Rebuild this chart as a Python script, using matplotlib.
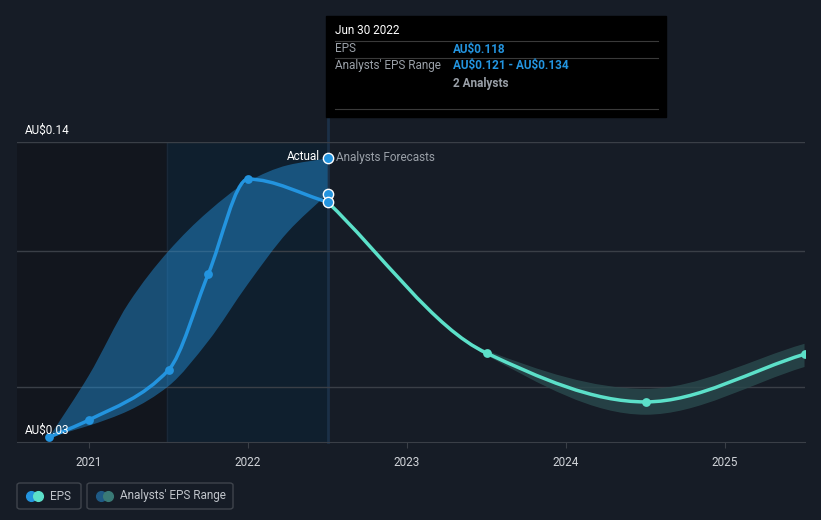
import numpy as np
import matplotlib
matplotlib.use('Agg')
import matplotlib.pyplot as plt
from matplotlib.path import Path
from matplotlib.patches import PathPatch, FancyBboxPatch

plt.rcParams['font.family'] = ['Roboto', 'DejaVu Sans']

# %% DATA
past_x = [2020.75, 2021.0, 2021.5, 2021.75, 2022.0, 2022.5]
past_eps = [0.0318, 0.0381, 0.0564, 0.0916, 0.1264, 0.118]

band_x = [2020.75, 2021.0, 2021.25, 2021.5, 2021.75, 2022.0, 2022.25, 2022.5]
band_lo = [0.0318, 0.0360, 0.0415, 0.0505, 0.0670, 0.0880, 0.1070, 0.121]
band_hi = [0.0318, 0.0545, 0.0810, 0.1000, 0.1145, 0.1255, 0.1315, 0.134]

fc_x = [2022.5, 2023.5, 2024.5, 2025.5]
fc_eps = [0.118, 0.0626, 0.0447, 0.0622]
fc_lo = [0.118, 0.0618, 0.0400, 0.0575]
fc_hi = [0.118, 0.0636, 0.0495, 0.0660]

years = [2021, 2022, 2023, 2024, 2025]
grid_vals = [0.14, 0.10, 0.05]

BG = '#161c26'
BLUE = '#2394df'
TEAL = '#5ce0c9'
GREY = '#9aa0a8'
FS = 8.5


def bezier_verts(x, y):
    # monotone cubic hermite -> bezier control points
    x = np.asarray(x, float)
    y = np.asarray(y, float)
    h = np.diff(x)
    d = np.diff(y) / h
    m = np.zeros_like(y)
    m[0], m[-1] = d[0], d[-1]
    for i in range(1, len(y) - 1):
        if d[i - 1] * d[i] <= 0:
            m[i] = 0
        else:
            w1 = 2 * h[i] + h[i - 1]
            w2 = h[i] + 2 * h[i - 1]
            m[i] = (w1 + w2) / (w1 / d[i - 1] + w2 / d[i])
    verts = [(x[0], y[0])]
    for i in range(len(x) - 1):
        verts.append((x[i] + h[i] / 3, y[i] + m[i] * h[i] / 3))
        verts.append((x[i + 1] - h[i] / 3, y[i + 1] - m[i + 1] * h[i] / 3))
        verts.append((x[i + 1], y[i + 1]))
    return verts


def curve(x, y):
    v = bezier_verts(x, y)
    return Path(v, [Path.MOVETO] + [Path.CURVE4] * (len(v) - 1))


def band(x, lo, hi):
    top = bezier_verts(x, hi)
    bot = bezier_verts(x[::-1], lo[::-1])
    v = top + bot + [top[0]]
    codes = ([Path.MOVETO] + [Path.CURVE4] * (len(top) - 1)
             + [Path.LINETO] + [Path.CURVE4] * (len(bot) - 1) + [Path.CLOSEPOLY])
    return Path(v, codes)


fig = plt.figure(figsize=(8.21, 5.2), dpi=100, facecolor=BG)
ax = fig.add_axes([17 / 821, 78 / 520, 788 / 821, 300 / 520])
ax.set_facecolor(BG)
ax.set_xlim(2020.547, 2025.503)
ax.set_ylim(0.03, 0.14)

# background regions
ax.axvspan(2020.547, 2021.49, color='#12161e', zorder=0)
ax.axvspan(2021.49, 2022.5, color='#0f1f2e', zorder=0)
ax.axvline(2021.49, color='#1a2838', lw=1, zorder=0.5)
ax.plot([2022.5, 2022.5], [0.03, 0.1491], color='#1b3047', lw=2,
        clip_on=False, zorder=0.5)

for g in grid_vals:
    ax.axhline(g, color='#3a3f47', lw=1, zorder=1)

# bands
ax.add_patch(PathPatch(band(band_x, band_lo, band_hi), facecolor=BLUE,
                       alpha=0.45, lw=0, zorder=2))
ax.add_patch(PathPatch(band(fc_x, fc_lo, fc_hi), facecolor='#2a4a4d',
                       alpha=0.8, lw=0, zorder=2))

# lines
ax.add_patch(PathPatch(curve(past_x, past_eps), facecolor='none',
                       edgecolor=BLUE, lw=2.5, zorder=3, capstyle='round'))
ax.add_patch(PathPatch(curve(fc_x, fc_eps), facecolor='none',
                       edgecolor=TEAL, lw=2.5, zorder=3, capstyle='round'))

ax.scatter(past_x[:-1], past_eps[:-1], s=40, color=BLUE, zorder=4, lw=0)
ax.scatter(fc_x[1:], fc_eps[1:], s=40, color=TEAL, zorder=4, lw=0)
ax.scatter([2022.5] * 3, [band_hi[-1], band_lo[-1], past_eps[-1]], s=55,
           color=BLUE, edgecolor='white', lw=1, zorder=5, clip_on=False)

ax.text(2022.45, 0.1345, 'Actual', color='white', fontsize=FS,
        ha='right', va='center', zorder=6)
ax.text(2022.555, 0.1345, 'Analysts Forecasts', color=GREY, fontsize=FS,
        ha='left', va='center', zorder=6)

# axes styling
for s in ['top', 'right', 'left']:
    ax.spines[s].set_visible(False)
ax.spines['bottom'].set_color('#3a3f47')
ax.set_yticks([])
ax.set_xticks(years)
ax.set_xticklabels([str(y) for y in years])
ax.tick_params(axis='x', colors='#3a3f47', length=4, labelcolor='#d0d3d8',
               labelsize=FS, pad=6)

ax.text(8 / 788, 1.04, r'AU\$0.14', transform=ax.transAxes, color='white',
        fontsize=FS, va='center', ha='left')
ax.text(8 / 788, 0.04, r'AU\$0.03', transform=ax.transAxes, color='white',
        fontsize=FS, va='center', ha='left', zorder=6)

# tooltip
W, H = 821, 520
def fx(px):
    return px / W
def fy(py):
    return 1 - py / H

fig.patches.append(plt.Rectangle((fx(326), fy(117)), 340 / W, 101 / H,
                                 transform=fig.transFigure, color='black',
                                 zorder=10))
for yy in [41, 58, 109]:
    fig.lines.append(plt.Line2D([fx(335), fx(658)], [fy(yy), fy(yy)],
                                transform=fig.transFigure, color='#3a3a3a',
                                lw=0.8, zorder=11))
fig.text(fx(335), fy(31), 'Jun 30 2022', color='white', fontsize=FS,
         va='center', zorder=12)
fig.text(fx(335), fy(49), 'EPS', color=GREY, fontsize=FS, va='center', zorder=12)
fig.text(fx(453), fy(49), r'AU\$0.118', color=BLUE, fontsize=FS,
         va='center', fontweight='bold', zorder=12)
fig.text(fx(335), fy(66), "Analysts' EPS Range", color=GREY, fontsize=FS,
         va='center', zorder=12)
fig.text(fx(453), fy(66), r'AU\$0.121 - AU\$0.134', color=BLUE, fontsize=FS,
         va='center', fontweight='bold', zorder=12)
fig.text(fx(453), fy(83), '2 Analysts', color=GREY, fontsize=FS,
         va='center', fontweight='bold', zorder=12)

# legend
def legend_box(x0, x1, c1, c2, label):
    fig.patches.append(FancyBboxPatch((fx(x0), fy(509)), (x1 - x0) / W,
                                      26 / H, boxstyle='round,pad=0,rounding_size=0.004',
                                      transform=fig.transFigure,
                                      facecolor='none', edgecolor='#3f444c',
                                      lw=1))
    fig.lines.append(plt.Line2D([fx(x0 + 14)], [fy(496)], marker='o',
                                markersize=7, color=c1, lw=0,
                                transform=fig.transFigure))
    fig.lines.append(plt.Line2D([fx(x0 + 21)], [fy(496)], marker='o',
                                markersize=7, color=c2, lw=0,
                                transform=fig.transFigure))
    fig.text(fx(x0 + 33), fy(496), label, color='#c0c4ca', fontsize=FS,
             va='center')

legend_box(17, 81, BLUE, TEAL, 'EPS')
legend_box(87, 233, '#1f5a85', '#3a7a76', "Analysts' EPS Range")

fig.savefig('out.png', dpi=100, facecolor=BG)
